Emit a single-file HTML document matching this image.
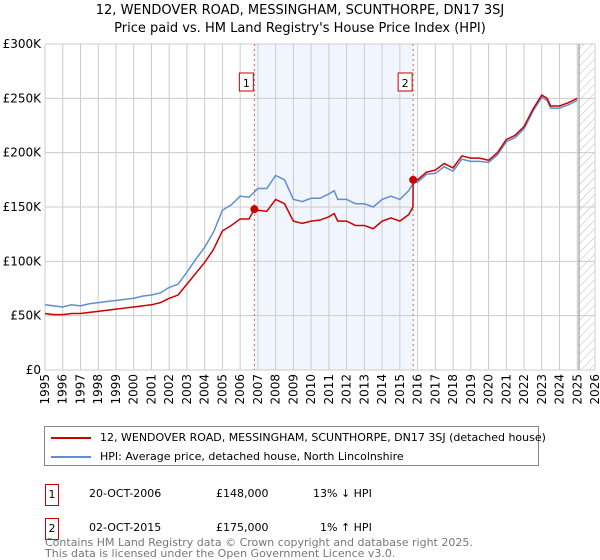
<!DOCTYPE html>
<html><head><meta charset="utf-8"><style>
body{margin:0;width:600px;height:560px;background:#fff;font-family:"DejaVu Sans","Liberation Sans",sans-serif;position:relative;overflow:hidden}
.t{position:absolute;font-size:12px;color:#000;white-space:nowrap}
</style></head><body>
<div class="t" style="left:0;width:600px;text-align:center;top:3px;font-size:13px">12, WENDOVER ROAD, MESSINGHAM, SCUNTHORPE, DN17 3SJ</div>
<div class="t" style="left:0;width:600px;text-align:center;top:21px;font-size:13px">Price paid vs. HM Land Registry's House Price Index (HPI)</div>
<svg id="ch" width="600" height="420" style="position:absolute;left:0;top:0" font-family="DejaVu Sans, Liberation Sans, sans-serif" font-size="12"></svg>
<div style="position:absolute;left:44px;top:426px;width:493px;height:38px;border:1px solid #888">
 <div style="position:absolute;left:6px;top:4px;font-size:11px;white-space:nowrap"><span style="display:inline-block;width:40px;height:2px;background:#cc0000;vertical-align:middle;margin-right:9px"></span>12, WENDOVER ROAD, MESSINGHAM, SCUNTHORPE, DN17 3SJ (detached house)</div>
 <div style="position:absolute;left:6px;top:23px;font-size:11px;white-space:nowrap"><span style="display:inline-block;width:40px;height:2px;background:#5f8fd0;vertical-align:middle;margin-right:9px"></span>HPI: Average price, detached house, North Lincolnshire</div>
</div>
<div>
 <div class="t" style="left:45px;top:484px;width:12px;height:20px;border:1px solid #cc0000;text-align:center;line-height:20px;font-size:11px">1</div>
 <div class="t" style="left:89px;top:487px;font-size:11px">20-OCT-2006</div>
 <div class="t" style="left:216px;top:487px;font-size:11px">£148,000</div>
 <div class="t" style="left:313px;top:487px;font-size:11px">13% ↓ HPI</div>
</div>
<div>
 <div class="t" style="left:45px;top:518px;width:12px;height:20px;border:1px solid #cc0000;text-align:center;line-height:20px;font-size:11px">2</div>
 <div class="t" style="left:89px;top:521px;font-size:11px">02-OCT-2015</div>
 <div class="t" style="left:216px;top:521px;font-size:11px">£175,000</div>
 <div class="t" style="left:320px;top:521px;font-size:11px">1% ↑ HPI</div>
</div>
<div class="t" style="left:45px;top:537px;font-size:11px;color:#777;line-height:11px">Contains HM Land Registry data © Crown copyright and database right 2025.<br>This data is licensed under the Open Government Licence v3.0.</div>
<script>
const hpiYears=[1995,1995.5,1996,1996.5,1997,1997.5,1998,1998.5,1999,1999.5,2000,2000.5,2001,2001.5,2002,2002.5,2003,2003.5,2004,2004.5,2005,2005.5,2006,2006.5,2007,2007.5,2008,2008.5,2009,2009.5,2010,2010.5,2011,2011.3,2011.5,2012,2012.5,2013,2013.5,2014,2014.5,2015,2015.5,2015.75,2016,2016.5,2017,2017.5,2018,2018.5,2019,2019.5,2020,2020.5,2021,2021.5,2022,2022.5,2023,2023.3,2023.5,2024,2024.5,2025];
const hpiValues=[60,59,58,60,59,61,62,63,64,65,66,68,69,71,76,79,90,102,113,127,147,152,160,159,167,167,179,175,157,155,158,158,162,165,157,157,153,153,150,157,160,157,165,172,173,180,181,187,183,194,192,192,191,198,210,214,222,238,251,248,241,241,244,248];
const priceYears=[1995,1995.5,1996,1996.5,1997,1997.5,1998,1998.5,1999,1999.5,2000,2000.5,2001,2001.5,2002,2002.5,2003,2003.5,2004,2004.5,2005,2005.5,2006,2006.5,2006.8,2007,2007.5,2008,2008.5,2009,2009.5,2010,2010.5,2011,2011.3,2011.5,2012,2012.5,2013,2013.5,2014,2014.5,2015,2015.5,2015.74,2015.75,2016,2016.5,2017,2017.5,2018,2018.5,2019,2019.5,2020,2020.5,2021,2021.5,2022,2022.5,2023,2023.3,2023.5,2024,2024.5,2025];
const priceValues=[52,51,51,52,52,53,54,55,56,57,58,59,60,62,66,69,79,89,99,111,128,133,139,139,148,147,146,157,153,137,135,137,138,141,144,137,137,133,133,130,137,140,137,143,150,175,175,182,184,190,186,197,195,195,193,200,212,216,224,240,253,250,243,243,246,250];
const xTicks=[];for(let y=1995;y<=2026;y++)xTicks.push(y);
const yTicks=[0,50,100,150,200,250,300];
const yTickLabels=["£0","£50K","£100K","£150K","£200K","£250K","£300K"];
const sales=[[2006.8,148,"1"],[2015.75,175,"2"]];
const X0=45,X1=595,Y0=370,Y1=44;
const x=v=>X0+(v-1995)/31*(X1-X0), y=v=>Y0-v/300*(Y0-Y1);
const s=document.getElementById('ch');const NS="http://www.w3.org/2000/svg";
function mk(t,a,p){const e=document.createElementNS(NS,t);for(const k in a)e.setAttribute(k,a[k]);(p||s).appendChild(e);return e;}
const defs=mk('defs',{});const pat=mk('pattern',{id:'h',width:6,height:6,patternUnits:'userSpaceOnUse',patternTransform:'rotate(45)'},defs);mk('line',{x1:0,y1:0,x2:0,y2:6,stroke:'#bbb','stroke-width':1},pat);
let r=mk('rect',{x:x(sales[0][0]),y:Y1,width:x(sales[1][0])-x(sales[0][0]),height:Y0-Y1,fill:'#eef3fc',opacity:0.8});

r=mk('rect',{x:x(2025.1),y:Y1,width:X1-x(2025.1),height:Y0-Y1,fill:'url(#h)'});

xTicks.forEach(t=>{let l=mk('line',{x1:x(t),x2:x(t),y1:Y1,y2:Y0,stroke:'#ccc'});
 let tx=mk('text',{x:0,y:0,'text-anchor':'end',transform:'translate('+(x(t)+4)+','+(Y0+4)+') rotate(-90)'});tx.textContent=t;});
yTicks.forEach((t,i)=>{let l=mk('line',{x1:X0,x2:X1,y1:y(t),y2:y(t),stroke:'#ccc'});
 let tx=mk('text',{x:X0-4,y:y(t)+4,'text-anchor':'end'});tx.textContent=yTickLabels[i];});
let vl=mk('line',{x1:x(2025.1),x2:x(2025.1),y1:Y1,y2:Y0,stroke:'#888'});
sales.forEach(d=>{let l=mk('line',{x1:x(d[0]),x2:x(d[0]),y1:Y1,y2:Y0,stroke:'#e06060','stroke-dasharray':'2,3'});
 let b=mk('rect',{x:x(d[0])-15,y:73,width:14,height:18,fill:'#fff',stroke:'#cc0000'});
 let t=mk('text',{x:x(d[0])-8,y:87,'text-anchor':'middle','font-size':11});t.textContent=d[2];});
let p1=mk('polyline',{points:hpiYears.map((v,i)=>x(v)+','+y(hpiValues[i])).join(' '),fill:'none',stroke:'#5f8fd0','stroke-width':1.5});

let p2=mk('polyline',{points:priceYears.map((v,i)=>x(v)+','+y(priceValues[i])).join(' '),fill:'none',stroke:'#cc0000','stroke-width':1.5});

sales.forEach(d=>{let c=mk('circle',{cx:x(d[0]),cy:y(d[1]),r:4,fill:'#cc0000'});});
</script>
</body></html>
